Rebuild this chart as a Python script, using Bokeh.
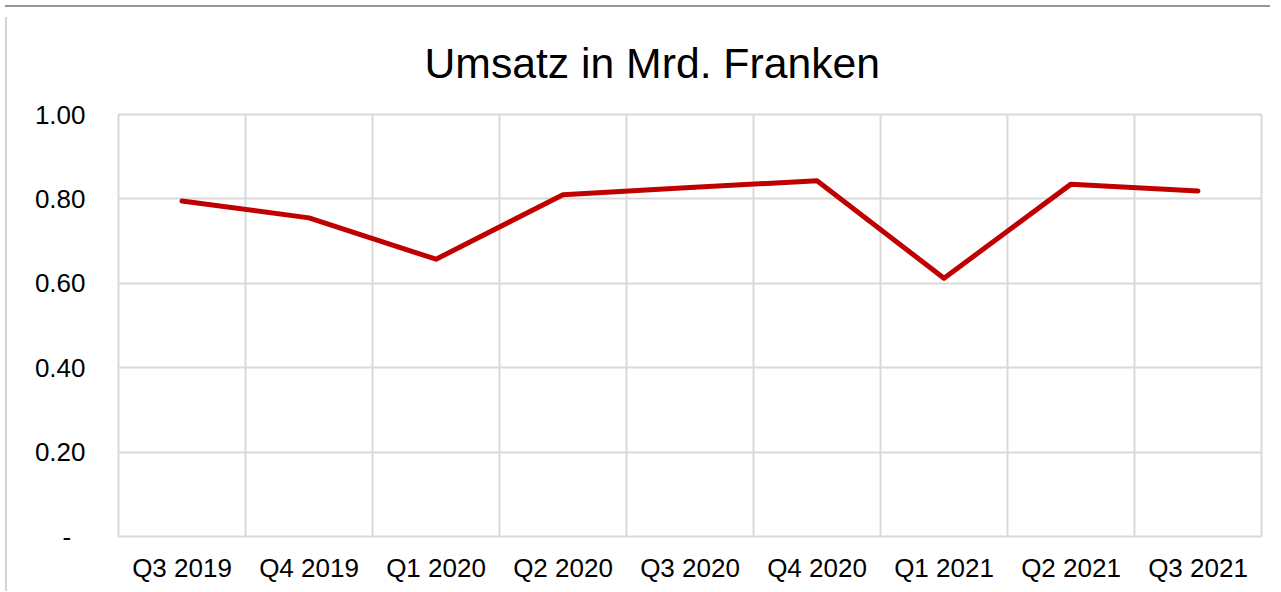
from bokeh.plotting import figure
from bokeh.models import FixedTicker, FactorRange, Range1d, Div, PrintfTickFormatter
from bokeh.layouts import column, row
from bokeh.embed import file_html
from bokeh.resources import INLINE

# ---- data ----
quarters = ["Q3 2019", "Q4 2019", "Q1 2020", "Q2 2020", "Q3 2020",
            "Q4 2020", "Q1 2021", "Q2 2021", "Q3 2021"]
umsatz = [0.795, 0.755, 0.657, 0.810, 0.827, 0.843, 0.612, 0.835, 0.819]
y_ticks = [0, 0.2, 0.4, 0.6, 0.8, 1.0]
zero_label = "-\u00a0\u00a0"
title_text = "Umsatz in Mrd. Franken"

FONT = "Liberation Sans"
GRID = "#d9d9d9"

p = figure(x_range=FactorRange(factors=quarters), y_range=Range1d(0, 1),
           width=1263, height=574, output_backend="svg", toolbar_location=None,
           min_border_left=106, min_border_right=14, min_border_top=102,
           min_border_bottom=50)

p.title.text = title_text
p.title.text_font = FONT
p.title.text_font_size = "42.7px"
p.title.text_font_style = "normal"
p.title.text_color = "#000000"
p.title.align = "left"
p.title.vertical_align = "top"
p.title.offset = 306
p.title.standoff = 51

p.line(quarters, umsatz, line_color="#c00000", line_width=5,
       line_cap="round", line_join="round")

p.outline_line_color = GRID
p.outline_line_width = 2

p.ygrid.ticker = FixedTicker(ticks=y_ticks)
p.ygrid.grid_line_color = GRID
p.ygrid.grid_line_width = 2
p.xgrid.ticker = FixedTicker(ticks=list(range(1, len(quarters))))
p.xgrid.grid_line_color = GRID
p.xgrid.grid_line_width = 2

for ax in (p.xaxis[0], p.yaxis[0]):
    ax.axis_line_color = None
    ax.major_tick_line_color = None
    ax.minor_tick_line_color = None
    ax.major_tick_out = 0
    ax.major_tick_in = 0
    ax.major_label_text_font = FONT
    ax.major_label_text_font_size = "26px"
    ax.major_label_text_color = "#000000"

p.yaxis.ticker = FixedTicker(ticks=y_ticks)
p.yaxis.formatter = PrintfTickFormatter(format="%.2f")
p.yaxis.major_label_overrides = {0: zero_label}
p.yaxis.major_label_standoff = 33
p.xaxis.major_label_standoff = 16

band = Div(text="", width=1265, height=2,
           styles={"background-color": "#959595"})
vline = Div(text="", width=2, height=574,
            styles={"background-color": "#d4d4d4"})

layout = column(band, row(vline, p, spacing=0), spacing=0)

open("out.html", "w").write(file_html(layout, INLINE))
